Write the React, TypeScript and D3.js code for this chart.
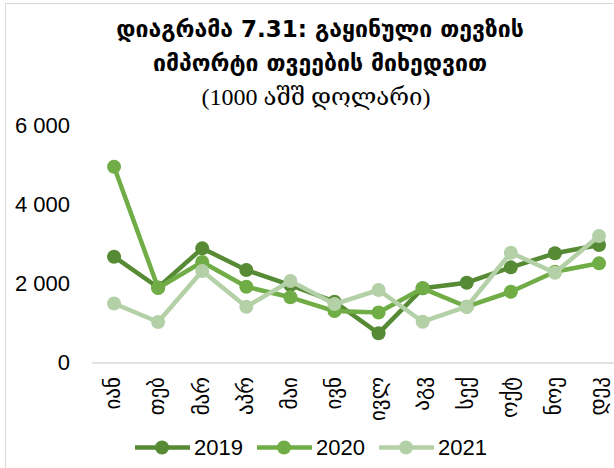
import React from "react";
import * as d3 from "d3";

const months = ["იან", "თებ", "მარ", "აპრ", "მაი", "ივნ", "ივლ", "აგვ", "სექ", "ოქტ", "ნოე", "დეკ"];
const values2019 = [2685, 1907, 2897, 2349, 1970, 1548, 750, 1887, 2028, 2417, 2771, 2981];
const values2020 = [4958, 1894, 2551, 1927, 1660, 1313, 1276, 1887, 1422, 1801, 2306, 2518];
const values2021 = [1503, 1036, 2324, 1422, 2071, 1490, 1844, 1043, 1422, 2786, 2281, 3208];
const yTicks = [0, 2000, 4000, 6000];
const seriesNames = ["2019", "2020", "2021"];
const seriesColors = ["#568a34", "#70ad47", "#b4d0a7"];

const W = 614;
const H = 468;

export default function App() {
  const series = [values2019, values2020, values2021];
  const x = d3.scaleBand<string>().domain(months).range([92, 92 + 12 * 44.09]);
  const y = d3.scaleLinear().domain([0, 6000]).range([363, 125.5]);
  const line = d3
    .line<number>()
    .x((_, i) => (x(months[i]) as number) + x.bandwidth() / 2)
    .y((d) => y(d));
  const fmt = (v: number) => d3.format(",")(v).replace(/,/g, " ");
  const legendX = [135, 257, 379];

  return (
    <svg
      width={W}
      height={H}
      style={{ position: "absolute", left: 0, top: 0, background: "#fff" }}
    >
      <rect x={5.5} y={3.5} width={700} height={600} fill="#fff" stroke="#d9d9d9" strokeWidth={1} />
      <g fontFamily="'DejaVu Sans', sans-serif" textAnchor="middle" fill="#000">
        <text x={320} y={37} fontSize={23} fontWeight="bold">დიაგრამა 7.31: გაყინული თევზის</text>
        <text x={320} y={71} fontSize={23} fontWeight="bold">იმპორტი თვეების მიხედვით</text>
        <text x={316} y={105} fontSize={24} fontFamily="'Liberation Serif', 'DejaVu Serif', serif">(1000 აშშ დოლარი)</text>
      </g>
      <line x1={92} x2={620} y1={y(0)} y2={y(0)} stroke="#d9d9d9" strokeWidth={1.5} />
      <g fontFamily="'Liberation Sans', Arial, sans-serif" fontSize={22} textAnchor="end" fill="#000">
        {yTicks.map((t) => (
          <text key={t} x={70} y={y(t)} dy="0.33em">
            {fmt(t)}
          </text>
        ))}
      </g>
      <g fontFamily="'DejaVu Sans', sans-serif" fontSize={21} textAnchor="end" fill="#000">
        {months.map((m) => {
          const cx = (x(m) as number) + x.bandwidth() / 2;
          return (
            <text key={m} transform={`translate(${cx},377) rotate(-90)`} dy="0.3em">
              {m}
            </text>
          );
        })}
      </g>
      {series.map((vals, si) => (
        <g key={si}>
          <path d={line(vals) || ""} fill="none" stroke={seriesColors[si]} strokeWidth={4.5} strokeLinejoin="round" />
          {vals.map((v, i) => (
            <circle
              key={i}
              cx={(x(months[i]) as number) + x.bandwidth() / 2}
              cy={y(v)}
              r={7}
              fill={seriesColors[si]}
            />
          ))}
        </g>
      ))}
      <g fontFamily="'Liberation Sans', Arial, sans-serif" fontSize={22} fill="#000">
        {seriesNames.map((n, i) => (
          <g key={n} transform={`translate(${legendX[i]},447.5)`}>
            <line x1={0} x2={55} y1={0} y2={0} stroke={seriesColors[i]} strokeWidth={4.5} />
            <circle cx={27} cy={0} r={7} fill={seriesColors[i]} />
            <text x={59} y={0} dy="0.35em">
              {n}
            </text>
          </g>
        ))}
      </g>
    </svg>
  );
}
